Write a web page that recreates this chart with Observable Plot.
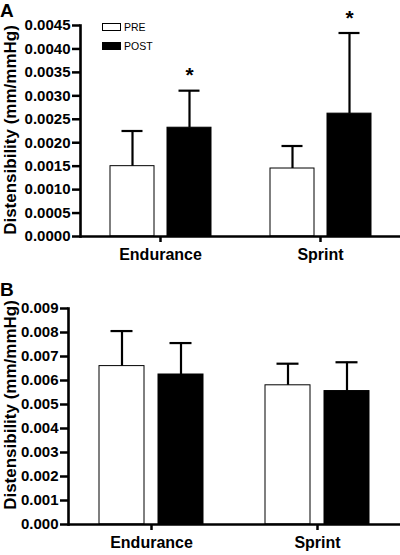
<!DOCTYPE html>
<html><head><meta charset="utf-8">
<script src="https://cdn.jsdelivr.net/npm/d3@7"></script>
<script src="https://cdn.jsdelivr.net/npm/@observablehq/plot@0.6"></script>
<style>
body{margin:0;background:#fff;font-family:"Liberation Sans",Arial,sans-serif;}
#wrap{position:relative;width:400px;height:555px;overflow:hidden;background:#fff}
.panel{position:absolute;left:0}
.letter{position:absolute;left:0;font-weight:bold;font-size:19px;line-height:1}
.ylab{position:absolute;font-weight:bold;font-size:17px;line-height:1;white-space:nowrap;transform:translate(-50%,-50%) rotate(-90deg)}
.sw{position:absolute;width:17px;height:6px;border:1px solid #000}
.lt{position:absolute;font-size:10.5px;line-height:1;transform:translateY(-50%)}
</style></head><body><div id="wrap"></div>
<script>
const groups = ["Endurance", "Sprint"];
const conditions = ["PRE", "POST"];
const yLabel = "Distensibility (mm/mmHg)";

// Panel A
const meanA_pre = [0.00150, 0.00145];
const sdA_pre = [0.00075, 0.00048];
const meanA_post = [0.00232, 0.00262];
const sdA_post = [0.00079, 0.00172];
const sigA_post = [true, true];
const ticksA = [0, 0.0005, 0.0010, 0.0015, 0.0020, 0.0025, 0.0030, 0.0035, 0.0040, 0.0045];

// Panel B
const meanB_pre = [0.0066, 0.0058];
const sdB_pre = [0.00146, 0.0009];
const meanB_post = [0.00625, 0.00556];
const sdB_post = [0.00131, 0.0012];
const sigB_post = [false, false];
const ticksB = [0, 0.001, 0.002, 0.003, 0.004, 0.005, 0.006, 0.007, 0.008, 0.009];

function rowsOf(mPre, sPre, mPost, sPost, sigPost) {
  const rows = [];
  groups.forEach((g, i) => {
    rows.push({group: g, condition: "PRE", mean: mPre[i], sd: sPre[i], sig: false});
    rows.push({group: g, condition: "POST", mean: mPost[i], sd: sPost[i], sig: sigPost[i]});
  });
  return rows;
}

const FONT = '"Liberation Sans", Arial, sans-serif';

function panel({rows, ticks, fmt, marginLeft, marginTop, marginBottom, height}) {
  return Plot.plot({
    width: 400, height, marginLeft, marginRight: 0, marginTop, marginBottom,
    style: {fontFamily: FONT, fontWeight: "bold", color: "black", background: "white", overflow: "visible"},
    fx: {domain: groups, padding: 0, label: null},
    x: {domain: conditions, axis: null, paddingInner: 0.235, paddingOuter: 0.51},
    y: {domain: [ticks[0], ticks[ticks.length - 1]], axis: null},
    color: {domain: conditions, range: ["white", "black"]},
    marks: [
      Plot.barY(rows, {fx: "group", x: "condition", y: "mean", fill: "condition", stroke: "black", strokeWidth: 1}),
      Plot.ruleX(rows, {fx: "group", x: "condition", y1: "mean", y2: d => d.mean + d.sd, strokeWidth: 2.2}),
      Plot.tickY(rows, {fx: "group", x: "condition", y: d => d.mean + d.sd, strokeWidth: 2.2, insetLeft: 11.5, insetRight: 11.5}),
      Plot.text(rows.filter(d => d.sig), {fx: "group", x: "condition", y: d => d.mean + d.sd, text: () => "*", dy: -15, fontSize: 21, fontWeight: "bold", lineAnchor: "middle"}),
      Plot.ruleY([0], {strokeWidth: 2.6}),
      Plot.frame({anchor: "left", facetAnchor: "left", strokeWidth: 2.6}),
      Plot.axisY({ticks, tickFormat: fmt, tickSize: 8, tickPadding: 2, strokeWidth: 2.5, fontSize: 15, fontWeight: "bold", label: null}),
      Plot.axisFx({anchor: "bottom", tickSize: 6, tickPadding: 6, strokeWidth: 2.5, fontSize: 16, fontWeight: "bold", label: null})
    ]
  });
}

const wrap = document.getElementById("wrap");

const svgA = panel({rows: rowsOf(meanA_pre, sdA_pre, meanA_post, sdA_post, sigA_post), ticks: ticksA, fmt: d3.format(".4f"),
  marginLeft: 80, marginTop: 25, marginBottom: 42, height: 278});
svgA.classList.add("panel"); svgA.style.top = "0px";
wrap.appendChild(svgA);

const svgB = panel({rows: rowsOf(meanB_pre, sdB_pre, meanB_post, sdB_post, sigB_post), ticks: ticksB, fmt: d3.format(".3f"),
  marginLeft: 68, marginTop: 30, marginBottom: 31, height: 277});
svgB.classList.add("panel"); svgB.style.top = "278px";
wrap.appendChild(svgB);

function addDiv(cls, text, css) {
  const d = document.createElement("div");
  d.className = cls; d.textContent = text;
  Object.assign(d.style, css);
  wrap.appendChild(d);
  return d;
}
addDiv("letter", "A", {top: "1px"});
addDiv("letter", "B", {top: "279.5px"});
addDiv("ylab", yLabel, {left: "10px", top: "129.5px"});
addDiv("ylab", yLabel, {left: "10px", top: "405px"});
// legend
addDiv("sw", "", {left: "102px", top: "23px", background: "white"});
addDiv("sw", "", {left: "102px", top: "42px", background: "black"});
addDiv("lt", conditions[0], {left: "124px", top: "27px"});
addDiv("lt", conditions[1], {left: "124px", top: "46px"});
</script>
</body></html>
